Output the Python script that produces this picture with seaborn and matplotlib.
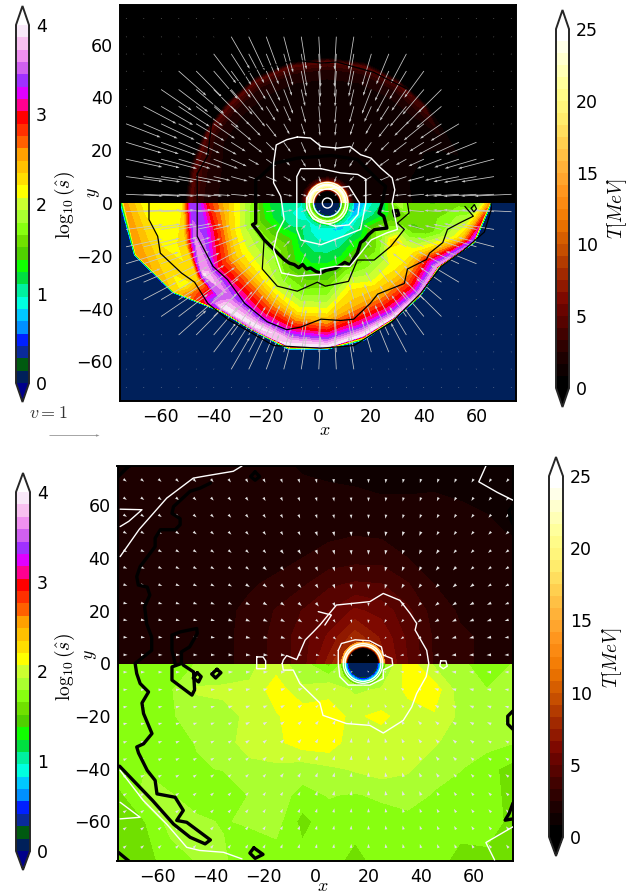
#!/usr/bin/env python3
# two panel map, log10(s) below y=0 and T above, contours and velocity arrows on top
import numpy as np
import matplotlib
matplotlib.use("Agg")
import matplotlib.pyplot as plt
from matplotlib.colors import BoundaryNorm, ListedColormap
import seaborn as sns

sns.set_style("white")
plt.rcParams['font.family'] = ['DejaVu Sans']
plt.rcParams['mathtext.fontset'] = 'cm'
plt.rcParams['text.color'] = 'black'
plt.rcParams['xtick.color'] = 'black'
plt.rcParams['ytick.color'] = 'black'

# colour bands
s_colors = ['#00205a', '#005a10', '#0a2a9a', '#0020ff', '#0090ff', '#00c8ff', '#00ffe0',
            '#00f0a0', '#00e040', '#10ff00', '#50d000', '#70e000', '#88ff10', '#aaff30',
            '#ccff30', '#ffff00', '#ffdd00', '#ffc000', '#ffa000', '#ff6000', '#ff3000',
            '#ff0000', '#ff0090', '#e000ff', '#a030ff', '#d060f0', '#f090f0', '#f8c0f0',
            '#f8e8f8']
t_anchors = ['#000000', '#220000', '#4a0200', '#7a0500', '#a02800', '#c85000', '#f07800',
             '#ff9018', '#ffb038', '#ffd050', '#fff070', '#ffff90', '#ffffc8', '#ffffff']
s_ticks = [0, 1, 2, 3, 4]
t_ticks = [0, 5, 10, 15, 20, 25]

# top panel, y<0: rays from the centre, radius and log10(s) at nodes along each ray
top_center = 3.4
top_s_angles = [180, 195, 210, 225, 240, 255, 270, 285, 300, 315, 330, 345, 360]
top_s_r = [
    [0, 8, 16, 24, 28, 33, 40, 45, 49, 52, 55, 60, 70, 77, 79, 120],
    [0, 8, 16, 24, 28, 33, 38, 43, 48, 52, 56, 62, 70, 75, 76, 120],
    [0, 8, 16, 24, 30, 36, 41, 45, 49, 52, 54, 57, 63, 67, 68, 120],
    [0, 8, 16, 24, 30, 35, 39, 42, 45, 48, 51, 54, 56, 57, 58, 120],
    [0, 8, 16, 24, 30, 35, 38, 41, 44, 47, 50, 52, 54, 55.5, 56, 120],
    [0, 8, 16, 24, 30, 35, 39, 43, 46, 48, 50, 52, 54, 56, 57.5, 120],
    [0, 8, 16, 22, 28, 33, 38, 42, 45, 47, 49, 51, 53, 54.5, 55.5, 120],
    [0, 8, 14, 20, 25, 30, 34, 38, 41, 44, 46, 48, 50, 52, 54, 120],
    [0, 7, 12, 18, 24, 30, 34, 38, 41, 43, 45, 47, 48.5, 50, 51, 120],
    [0, 6, 10, 15, 20, 25, 30, 34, 38, 41, 43, 45, 47, 49, 50, 120],
    [0, 6, 10, 15, 20, 25, 29, 33, 37, 40, 42, 44, 46, 48, 49, 120],
    [0, 6, 10, 15, 20, 25, 30, 35, 40, 45, 50, 53, 55, 57, 58, 120],
    [0, 5, 9, 13, 17, 21, 24, 27, 32, 40, 50, 55, 59, 61.5, 62.5, 120],
]
top_s_v = [
    [0.9, 0.95, 1.05, 1.3, 1.7, 2.05, 2.5, 2.85, 3.4, 3.3, 2.2, 2.1, 2.15, 2.55, 0.05, 0.05],
    [0.75, 0.85, 1.0, 1.35, 1.6, 1.95, 2.3, 2.85, 3.4, 3.6, 2.3, 2.1, 2.4, 2.6, 0.05, 0.05],
    [0.7, 0.85, 1.05, 1.5, 1.85, 2.1, 2.4, 2.8, 3.1, 3.7, 3.9, 2.3, 2.1, 2.3, 0.05, 0.05],
    [0.7, 0.9, 1.2, 1.6, 1.85, 2.05, 2.3, 2.6, 2.9, 3.15, 3.5, 3.8, 3.95, 3.4, 0.05, 0.05],
    [0.6, 0.85, 1.05, 1.35, 1.55, 1.85, 2.05, 2.3, 2.6, 2.9, 3.2, 3.6, 3.95, 3.5, 0.05, 0.05],
    [0.55, 0.8, 1.0, 1.25, 1.5, 1.7, 1.95, 2.2, 2.55, 2.85, 3.1, 3.4, 3.75, 3.98, 0.05, 0.05],
    [0.55, 0.8, 1, 1.2, 1.45, 1.7, 1.95, 2.2, 2.5, 2.75, 3, 3.3, 3.7, 3.95, 0.05, 0.05],
    [0.45, 0.7, 0.95, 1.2, 1.5, 1.95, 2.2, 2.35, 2.5, 2.8, 3.0, 3.2, 3.6, 3.95, 0.05, 0.05],
    [0.4, 0.5, 0.85, 1.25, 1.55, 1.85, 2.05, 2.35, 2.55, 2.75, 2.95, 3.15, 3.5, 3.9, 0.05, 0.05],
    [0.35, 0.45, 0.8, 1.05, 1.35, 1.6, 1.9, 2.1, 2.3, 2.55, 2.75, 2.95, 3.2, 3.7, 0.05, 0.05],
    [0.35, 0.4, 0.75, 1.1, 1.55, 1.85, 2.35, 2.1, 2.15, 2.4, 2.7, 3.0, 3.3, 3.7, 0.05, 0.05],
    [0.35, 0.4, 0.6, 0.95, 1.2, 1.5, 1.55, 1.45, 1.55, 1.8, 2.1, 2.4, 2.85, 3.4, 0.05, 0.05],
    [0.35, 0.35, 0.45, 0.75, 0.95, 1.1, 1.5, 1.9, 1.55, 1.5, 1.6, 1.5, 2.0, 2.5, 0.05, 0.05],
]

# top panel, y>0: same idea for T
top_t_angles = [0, 15, 30, 45, 60, 75, 90, 105, 120, 135, 150, 165, 180]
top_t_r = [
    [0, 10, 28, 40, 50, 55, 60, 120],
    [0, 10, 28, 40, 50, 55, 60, 120],
    [0, 10, 28, 42, 46, 50, 53, 120],
    [0, 10, 28, 42, 48, 51.5, 53, 120],
    [0, 10, 28, 42, 49, 52.5, 54, 120],
    [0, 10, 28, 42, 50, 53.5, 55, 120],
    [0, 10, 28, 42, 50, 53.5, 55, 120],
    [0, 10, 28, 42, 50, 53.5, 55, 120],
    [0, 10, 28, 42, 50, 53.5, 55, 120],
    [0, 10, 28, 42, 49, 52.5, 54, 120],
    [0, 10, 28, 42, 49, 52.5, 54, 120],
    [0, 10, 28, 40, 47, 52, 54, 120],
    [0, 10, 28, 40, 47, 52, 54, 120],
]
top_t_v = [
    [1.5, 1.2, 1.0, 0.5, 0.4, 0.4, 0.4, 0.4],
    [1.5, 1.2, 1.0, 0.5, 0.4, 0.4, 0.4, 0.4],
    [1.5, 1.2, 1.0, 0.9, 1.0, 1.6, 0.4, 0.4],
    [1.5, 1.2, 1.1, 1.1, 1.9, 4.0, 0.4, 0.4],
    [1.5, 1.2, 1.1, 1.1, 2.0, 4.4, 0.4, 0.4],
    [1.5, 1.2, 1.1, 1.1, 2.0, 4.4, 0.4, 0.4],
    [1.5, 1.2, 1.1, 1.1, 2.0, 4.4, 0.4, 0.4],
    [1.5, 1.2, 1.1, 1.1, 2.0, 4.4, 0.4, 0.4],
    [1.5, 1.2, 1.1, 1.1, 2.0, 4.4, 0.4, 0.4],
    [1.5, 1.2, 1.1, 1.1, 2.0, 4.4, 0.4, 0.4],
    [1.5, 1.2, 1.1, 1.1, 2.2, 4.4, 0.4, 0.4],
    [1.5, 1.2, 1.2, 1.4, 2.4, 4.4, 0.4, 0.4],
    [1.5, 1.2, 1.2, 1.4, 2.4, 4.4, 0.4, 0.4],
]

# rings round the hole
top_hole_r = [0, 4.5, 5, 5.6, 6.2, 7, 7.6, 8.4, 10]
top_hole_t = [0.2, 0.2, 6, 14, 21, 24, 14, 5, 1.5]
top_hole_s = [0.05, 0.05, 0.2, 1.3, 1.5, 1.9, 1.5, 1.1, 0.9]
bot_center = 18
bot_hole_r = [0, 5.4, 5.9, 6.4, 6.9, 7.4, 8.2]
bot_hole_t = [0.2, 0.2, 0.4, 8, 16, 17, 13]
bot_hole_s = [0.05, 0.05, 0.45, 0.7, 0.9, 1.3, 1.6]

# bottom panel fields on a coarse grid
bot_x = [-75, -65, -55, -45, -35, -25, -15, -5, 5, 15, 25, 35, 45, 55, 65, 75]
bot_s_y = [0, -10, -20, -30, -40, -50, -60, -75]
bot_s = [
    [1.75, 1.75, 1.72, 1.8, 1.85, 1.9, 2.0, 1.85, 1.6, 2.0, 1.7, 2.15, 1.9, 1.85, 1.65, 1.8],
    [1.72, 1.75, 1.78, 1.95, 1.95, 1.95, 2.15, 1.95, 2.05, 1.9, 1.95, 2.1, 2.15, 1.85, 1.8, 1.8],
    [1.72, 1.75, 1.78, 1.85, 1.9, 1.95, 2.05, 2.17, 2.1, 2.05, 2.1, 2.0, 2.05, 1.9, 1.85, 1.8],
    [1.72, 1.72, 1.75, 1.8, 1.87, 2.0, 2.03, 2.15, 2.17, 1.95, 2.0, 2.0, 1.95, 1.85, 1.85, 1.8],
    [1.78, 1.78, 1.72, 1.78, 1.8, 1.88, 1.9, 1.85, 1.9, 1.95, 2.0, 1.95, 1.85, 1.8, 1.7, 1.6],
    [1.6, 1.85, 1.8, 1.72, 1.7, 1.8, 1.85, 1.75, 1.8, 1.78, 1.82, 1.85, 1.78, 1.72, 1.72, 1.6],
    [1.6, 1.65, 1.85, 1.82, 1.78, 1.82, 1.85, 1.6, 1.75, 1.72, 1.72, 1.75, 1.72, 1.72, 1.75, 1.6],
    [1.55, 1.6, 1.72, 1.8, 1.82, 1.65, 1.72, 1.72, 1.72, 1.6, 1.72, 1.72, 1.72, 1.6, 1.6, 1.6],
]
bot_t_y = [0, 10, 20, 30, 40, 50, 60, 75]
bot_t = [
    [1.7, 1.8, 1.9, 2.1, 2.3, 2.8, 3.6, 4.6, 7, 11, 7, 5, 3.2, 2.6, 2.4, 2.3],
    [1.8, 1.8, 1.9, 2.1, 2.3, 2.8, 3.6, 4.6, 6, 8, 6.5, 4.8, 3.2, 2.6, 2.4, 2.3],
    [1.9, 1.9, 2, 2.1, 2.3, 2.7, 3.4, 4.2, 5, 6, 5.5, 4.4, 2.9, 2.4, 2.3, 2.2],
    [1.9, 1.9, 1.9, 2, 2.2, 2.4, 2.7, 3.2, 4, 4.3, 4.2, 3.4, 2.5, 2.2, 2.2, 2.1],
    [1.9, 1.9, 1.9, 1.9, 2, 2.1, 2.2, 2.5, 2.8, 3, 3, 2.5, 2.2, 2.1, 2, 2],
    [1.9, 1.9, 1.9, 1.9, 1.9, 2, 2.1, 2.2, 2.3, 2.4, 2.3, 2.1, 2, 1.9, 1.8, 1.6],
    [1.9, 1.9, 1.9, 1.9, 1.9, 1.9, 1.9, 1.9, 1.9, 1.9, 1.8, 1.8, 1.8, 1.7, 1.6, 1.5],
    [1.6, 1.7, 1.8, 1.8, 1.8, 1.8, 1.8, 1.6, 1.5, 1.4, 1.3, 1.3, 1.4, 1.4, 1.4, 1.4],
]

# velocity arrows: speed per radial ring, reach of the arrows per row
ring_edges = [0, 8, 15, 25, 35, 45, 55, 65, 200]
top_speed = [0.05, 0.13, 0.18, 0.24, 0.34, 0.52, 0.66, 0.74]
bot_speed = [0.04, 0.05, 0.07, 0.09, 0.09, 0.09, 0.08, 0.08]
arrow_rows = [3.3, 10, 16.6, 23, 30, 36.6, 43, 50, 56.5, 63, 70]
reach_left = [78, 78, 78, 76, 74, 72, 66, 56, 46, 38, 0]
reach_right = [75, 73, 68, 65, 58, 50, 48, 41, 35, 18, 0]
reach_all = [78] * 11

# contour lines, (x, y)
top_white = [
    [(-8, 25), (-3, 24.6), (1, 21.4), (7.2, 20.8), (12, 21.4), (16, 18.3), (20, 17), (23.7, 13.2),
     (28, 9.5), (29, 5), (28, 0), (29, -5), (30, -10), (26, -11.3), (20, -14), (16, -19), (12, -24),
     (6.4, -24), (0.8, -25), (1, -27), (-8, -27.7), (-14, -26.5), (-17, -17.6), (-15.6, -11.3),
     (-13, -6.3), (-13.7, -1.3), (-14.3, 2.5), (-17, 7.6), (-17, 15), (-16, 22), (-12, 24), (-8, 25)],
    [(1, 13), (-6.7, 13), (-8.2, 10), (-8.2, -10), (-6.7, -14), (1, -15.8), (8.4, -13), (16, -10),
     (17, -5), (18, 0), (18, 9), (15, 10.8), (8.4, 11.4), (1, 13)],
    [(0.8, 5), (11.6, 6.3), (15.6, 0), (15, -4.4), (11.6, -8.3), (6.4, -8.8), (2.5, -7.6), (-2, -6),
     (-4.5, -2), (-4.5, 2), (-2, 4.5), (0.8, 5)],
]
top_rings = [(5.3, 'white'), (6.9, 'white'), (7.8, 'white'), (1.9, 'white')]
top_black_thick = [
    [(-23.8, 0), (-23.8, 8.8), (-22, 10), (-16.8, 15), (-8, 17), (5, 18), (14.8, 16.5), (22.4, 8.9),
     (25.5, 6.3), (24.2, 0), (23, -3.8), (24.8, -5), (26, -9.5), (21.2, -10.1), (19, -12), (17.4, -14),
     (16, -15), (14.8, -18.9), (12, -23.5), (10, -22.5), (6.4, -24.8), (3, -25.5), (0.8, -26.5), (-1, -25.9),
     (-3, -24.6), (-4.5, -25), (-6, -23.3), (-7.5, -24.5), (-9.2, -23.3), (-11, -22.8), (-13, -21.4),
     (-20.6, -13.9), (-22.5, -11.3), (-25, -8.2), (-23.8, -7.6), (-23.8, 0)],
    [(28.5, -3), (30, -2.8), (30.5, -4.5), (29, -5), (28.5, -3)],
]
top_black_thin = [
    [(-64.3, 0), (-64.3, -6.3), (-61, -12.6), (-60, -19), (-52, -26.5), (-47, -30), (-42, -38),
     (-34.5, -44), (-17, -54), (0.8, -55), (13.5, -54), (28, -45), (39, -34), (46.6, -24), (55, -18),
     (63, -11), (65.6, -2.5), (65.6, 0)],
    [(-39.6, 38), (-25, 50.4), (-8, 54), (1, 53), (7, 53.4), (21, 49.5), (34, 43)],
    [(-46, 11), (-46, 0), (-46, -12.6), (-40, -24), (-34.5, -29), (-28, -38), (-19.4, -45), (-12, -48),
     (-6.7, -47), (1, -44), (8.4, -44.5), (13.4, -44), (19.7, -38), (22.5, -34.5), (32.6, -30.5),
     (33.8, -25), (41, -21.4), (42.2, -19), (47.2, -15), (49, -10), (53.5, -7.6), (58.8, -5), (55.6, -1.3)],
    [(-20.6, -13.9), (-21.3, -25), (-15.6, -31.5), (-8, -33.4), (-0.4, -30), (2.6, -31.5), (11.4, -29.7),
     (14.8, -21.6), (21.2, -21.6), (27.5, -16.4), (32.6, -10), (30, -7.6), (34.4, -3.8), (33.8, 0)],
    [(-46, 11), (-42, 18), (-39.6, 38)],
    [(58, -2), (59.2, -0.6), (60, -2.2), (59, -3.4), (58, -2)],
]

bot_black = [
    [(-40, 68.5), (-43.9, 66.6), (-47.7, 65.4), (-54, 59.6), (-54.6, 57), (-51.5, 55), (-51.5, 52.7),
     (-53.4, 50.8), (-59, 50.8), (-61, 47.6), (-61, 44.4), (-66.7, 36.8), (-68, 33), (-67.4, 29.8),
     (-64, 29), (-63, 26), (-65, 21.6), (-64.2, 15), (-62.3, 10), (-62.3, 5), (-68.6, 0), (-68, -3.8),
     (-66.7, -7.6), (-63.5, -10.8), (-66, -15), (-65.4, -19), (-62.2, -26.6), (-65.4, -30.5), (-68, -31.7),
     (-67.3, -34), (-64, -40.6), (-61, -44.4), (-60.3, -49.5), (-53.4, -50.8), (-50.3, -55.8), (-52.8, -59.6),
     (-49, -60.3), (-40, -67), (-42, -68.5), (-47.7, -66), (-54, -61), (-62, -52), (-74.5, -39)],
    [(-53.4, 0), (-54.6, 5), (-54.6, 10.8), (-51.5, 12), (-45.2, 13.3), (-45, 11.4), (-47.9, 6.3), (-51, 4.4),
     (-51, 0), (-54.6, -1.3), (-54.6, -6.3), (-51, -9), (-47, -12), (-46, -10), (-46.4, -3.2), (-50.3, -0.6)],
    [(-45, -3.5), (-43.5, -5), (-44.5, -7), (-46.5, -5.5), (-45, -3.5)],
    [(-37.5, -2.2), (-36, -3.5), (-38, -5.5), (-39.5, -4), (-37.5, -2.2)],
    [(-23, 72.8), (-21.3, 71), (-23, 69.6), (-24.7, 71), (-23, 72.8)],
    [(-23.5, -70), (-20, -72.5), (-23, -74), (-25, -72), (-23.5, -70)],
    [(75, -18), (73, -20), (73, -23), (75, -25)],
    [(75, 60), (73.5, 58), (74, 55), (75, 53)],
    [(75, -53), (73.5, -57), (72, -59.5), (75, -59)],
    [(-75, -71.7), (-71, -75)],
    [(-75, 71), (-72, 74), (-71, 75)],
]
bot_white = [
    [(-74.3, 40.6), (-67, 51), (-56.6, 62.8), (-46.5, 70.4), (-41.4, 71.3), (-31.3, 73), (-28, 75)],
    [(-74.3, 52), (-71, 54), (-66, 58.4), (-74.3, 58.6)],
    [(-74.3, -40.6), (-65.5, -52), (-56.6, -61), (-49, -69.8), (-44, -71), (-35, -71.7), (-28, -74.2)],
    [(-74.3, -52.7), (-66.7, -58.4), (-74.3, -59)],
    [(-12.7, 0), (-12.3, 1.3), (-11, 3), (-7.2, 1.5), (-4, 8.9), (-0.9, 12), (1.6, 14.6), (7.9, 22.2),
     (20.6, 23.5), (25.7, 26.6), (32, 24), (35.9, 19), (38.4, 15.2), (37.8, 12.7), (42.2, 5), (43, 0),
     (42, -5), (38.4, -11.4), (36.5, -16.5), (33.3, -21.6), (25.7, -26.4), (20.6, -23.5), (11.7, -22.8),
     (2.8, -19.7), (1.6, -15), (-6, -7.6), (-8.5, -2.5), (-12.3, -2.5), (-12.7, 0)],
    [(1, 19.7), (6, 18.4), (3.5, 14.6)],
    [(8.6, 5), (9.8, 7.6), (15, 9), (20.6, 8.6), (25, 6.3), (25.7, 3.2), (29, 1.9), (29.3, -0.6), (25.7, -2.5),
     (25.7, -5.7), (20.6, -8.2), (12.4, -8.2), (9.2, -5), (8.6, 0), (8.6, 5)],
    [(47.5, 1), (49.5, 1), (50, -1), (48.5, -2), (47.2, -1), (47.5, 1)],
    [(-22.4, 2.5), (-20, 2.5), (-19, 1), (-19, -2), (-22.4, -2), (-22.4, 2.5)],
    [(64.7, 75), (62, 69), (69, 65), (75, 62)],
    [(75, -62), (64.7, -68), (68, -74.6)],
]
bot_rings = [(6.8, 'white'), (7.5, 'white')]

W, H = 644, 894


def px_rect(left, top, right, bottom):
    # pixel box of the reference to figure fractions
    return [left / W, 1 - bottom / H, (right - left) / W, (bottom - top) / H]


def polar_mesh(center, angles, radii):
    th = np.deg2rad(np.array(angles, dtype=float))[:, None]
    r = np.array(radii, dtype=float)
    return center + r * np.cos(th), r * np.sin(th)


def draw_lines(ax, lines, color, lw):
    for line in lines:
        xy = np.array(line)
        ax.plot(xy[:, 0], xy[:, 1], color=color, lw=lw, solid_joinstyle='round', zorder=5)


def draw_rings(ax, center, rings, lw):
    for r, col in rings:
        ax.add_patch(plt.Circle((center, 0), r, fill=False, ec=col, lw=lw, zorder=5))


def draw_arrows(ax, center, speeds, left, right, color, width):
    grid = np.arange(-73, 74, 6.65)
    rows = [-a for a in arrow_rows[::-1]] + arrow_rows
    xs, ys, us, vs = [], [], [], []
    for y in rows:
        k = arrow_rows.index(abs(y))
        for x in grid:
            d = np.hypot(x - center, y)
            sp = speeds[np.digitize(d, ring_edges) - 1]
            if x < -left[k] or x > right[k]:
                sp = 0.02
            xs.append(x)
            ys.append(y)
            us.append(sp * (center - x) / max(d, 0.1))
            vs.append(sp * (0 - y) / max(d, 0.1))
    return ax.quiver(xs, ys, us, vs, angles='xy', scale_units='xy', scale=1 / 19.0, color=color,
                     width=width, headwidth=3, headlength=4.5, zorder=4)


def style_axes(ax, xlab_px, ylab_px):
    ax.set_xlim(-75.3, 75)
    ax.set_ylim(-75, 75)
    ax.set_xticks([-60, -40, -20, 0, 20, 40, 60])
    ax.set_yticks([-60, -40, -20, 0, 20, 40, 60])
    ax.tick_params(direction='in', length=5, width=0.9, labelsize=12.5, color='black', pad=5,
                   bottom=True, left=True, top=False, right=False)
    for sp in ax.spines.values():
        sp.set_linewidth(1.4)
        sp.set_color('black')
    ax.set_aspect('auto')
    fig.text(xlab_px[0] / W, 1 - xlab_px[1] / H, '$x$', fontsize=13, ha='center', va='center')
    fig.text(ylab_px[0] / W, 1 - ylab_px[1] / H, '$y$', fontsize=13, ha='center', va='center', rotation=90)


def add_bar(cf, rect, ticks, label, label_px, rot):
    # extends are drawn inside the given axes box, so rect runs tip to tip
    cax = fig.add_axes(px_rect(*rect))
    cb = fig.colorbar(cf, cax=cax, extend='both', extendfrac=0.053, ticks=ticks)
    cb.minorticks_off()
    cb.outline.set_linewidth(1.4)
    cb.ax.tick_params(direction='in', length=5, width=0.9, labelsize=12.5, pad=5, color='black')
    fig.text(label_px[0] / W, 1 - label_px[1] / H, label, fontsize=14, ha='center', va='center', rotation=rot)
    return cb


s_cmap = ListedColormap(sns.color_palette(s_colors))
s_cmap.set_under('#00008b')
s_cmap.set_over('#ffffff')
s_levels = np.linspace(0, 4, len(s_colors) + 1)
s_norm = BoundaryNorm(s_levels, s_cmap.N)

t_cmap = ListedColormap(sns.blend_palette(t_anchors, n_colors=30))
t_cmap.set_under('#000000')
t_cmap.set_over('#ffffff')
t_levels = np.linspace(0, 25, 31)
t_norm = BoundaryNorm(t_levels, t_cmap.N)

fig = plt.figure(figsize=(W / 100, H / 100), dpi=100, facecolor='white')

# top panel
ax1 = fig.add_axes(px_rect(120, 5, 516, 401))
X, Y = polar_mesh(top_center, top_s_angles, top_s_r)
cf_s = ax1.contourf(X, Y, np.array(top_s_v), levels=s_levels, cmap=s_cmap, norm=s_norm, extend='both')
X, Y = polar_mesh(top_center, top_t_angles, top_t_r)
cf_t = ax1.contourf(X, Y, np.array(top_t_v), levels=t_levels, cmap=t_cmap, norm=t_norm, extend='both')
X, Y = polar_mesh(top_center, top_t_angles, [top_hole_r] * len(top_t_angles))
ax1.contourf(X, Y, np.array([top_hole_t] * len(top_t_angles)), levels=t_levels, cmap=t_cmap, norm=t_norm, extend='both')
X, Y = polar_mesh(top_center, top_s_angles, [top_hole_r] * len(top_s_angles))
ax1.contourf(X, Y, np.array([top_hole_s] * len(top_s_angles)), levels=s_levels, cmap=s_cmap, norm=s_norm, extend='both')
q1 = draw_arrows(ax1, top_center, top_speed, reach_left, reach_right, '#c8c8c8', 0.002)
draw_lines(ax1, top_black_thin, 'black', 0.9)
draw_lines(ax1, top_black_thick, 'black', 2.4)
draw_lines(ax1, top_white, 'white', 1.0)
draw_rings(ax1, top_center, top_rings, 1.0)
style_axes(ax1, (325, 430), (93, 193))
ax1.quiverkey(q1, 74 / W, 1 - 435 / H, 1, ' ', coordinates='figure', color='#909090')
fig.text(48 / W, 1 - 413 / H, '$v = 1$', fontsize=13, ha='center', va='center', color='#333333')
add_bar(cf_s, (16, 6, 29, 402), s_ticks, r'$\log_{10}(\hat{s})$', (65, 205), 90)
add_bar(cf_t, (556, 10, 569, 407), t_ticks, r'$T[MeV]$', (617, 208), 90)

# bottom panel
ax2 = fig.add_axes(px_rect(117.5, 466, 513, 861))
cf_s2 = ax2.contourf(bot_x, bot_s_y, np.array(bot_s), levels=s_levels, cmap=s_cmap, norm=s_norm, extend='both')
cf_t2 = ax2.contourf(bot_x, bot_t_y, np.array(bot_t), levels=t_levels, cmap=t_cmap, norm=t_norm, extend='both')
X, Y = polar_mesh(bot_center, top_t_angles, [bot_hole_r] * len(top_t_angles))
ax2.contourf(X, Y, np.array([bot_hole_t] * len(top_t_angles)), levels=t_levels, cmap=t_cmap, norm=t_norm, extend='both')
X, Y = polar_mesh(bot_center, top_s_angles, [bot_hole_r] * len(top_s_angles))
ax2.contourf(X, Y, np.array([bot_hole_s] * len(top_s_angles)), levels=s_levels, cmap=s_cmap, norm=s_norm, extend='both')
draw_arrows(ax2, bot_center, bot_speed, reach_all, reach_all, '#e4e4e4', 0.0026)
draw_lines(ax2, bot_black, 'black', 2.4)
draw_lines(ax2, bot_white, 'white', 1.0)
draw_rings(ax2, bot_center, bot_rings, 1.0)
style_axes(ax2, (323, 886), (90, 655))
add_bar(cf_s2, (16, 473, 30, 870), s_ticks, r'$\log_{10}(\hat{s})$', (65, 667), 90)
add_bar(cf_t2, (549, 457, 563, 856), t_ticks, r'$T[MeV]$', (612, 657), 90)

fig.savefig('out.png', dpi=100)
